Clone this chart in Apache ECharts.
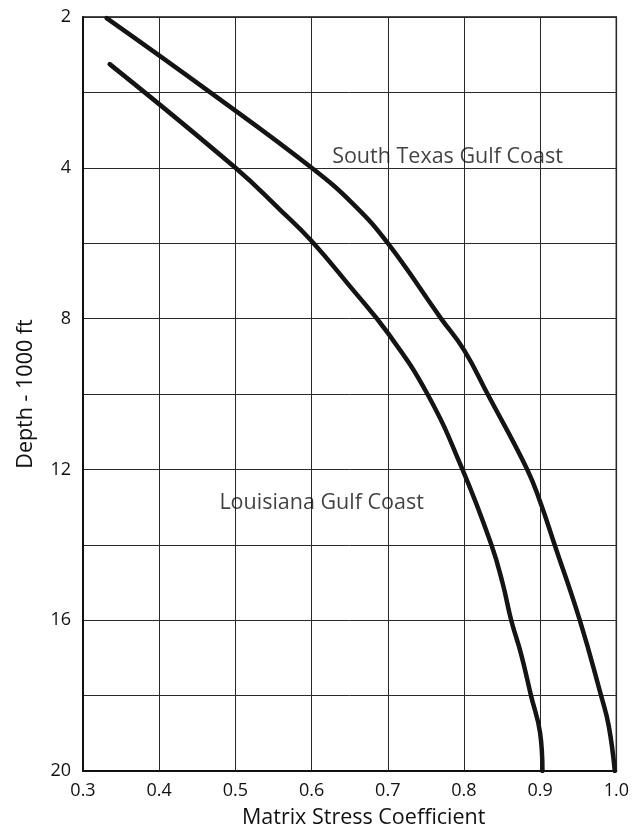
<!DOCTYPE html>
<html>
<head>
<meta charset="utf-8">
<style>
  html, body { margin: 0; padding: 0; background: #fff; }
  #chart { width: 632px; height: 834px; }
</style>
<script src="https://cdn.jsdelivr.net/npm/echarts@6/dist/echarts.min.js"></script>
</head>
<body>
<div id="chart"></div>
<script>
// Matrix stress coefficient (x) against depth in thousands of feet (y, downward)
const southTexasCoef  = [0.331, 0.467, 0.600, 0.655, 0.700, 0.770, 0.800, 0.831, 0.883, 0.900, 0.919, 0.952, 0.980, 0.990, 0.998];
const southTexasDepth = [0.03,  2.00,  4.00,  4.97,  6.00,  8.00,  8.83,  10.00, 12.00, 12.86, 14.00, 16.00, 18.00, 18.80, 20.00];

const louisianaCoef  = [0.335, 0.500, 0.558, 0.600, 0.651, 0.700, 0.752, 0.798, 0.836, 0.851, 0.862, 0.875, 0.888, 0.900, 0.903];
const louisianaDepth = [1.25,  4.00,  5.10,  5.94,  7.16,  8.38,  10.00, 12.00, 14.00, 15.04, 16.00, 16.90, 18.00, 19.00, 20.00];

const seriesNames = ['South Texas Gulf Coast', 'Louisiana Gulf Coast'];

// Depth axis tick labels
const depthTicks = [0, 4, 8, 12, 16, 20];
const depthTickLabels = ['2', '4', '8', '12', '16', '20'];

// Where each curve's caption sits (left edge, vertical middle), in data units
const captionAnchors = [[0.627, 3.70], [0.479, 12.88]];

const zip = (xs, ys) => xs.map((x, i) => [x, ys[i]]);

const FONT = '"Open Sans", "DejaVu Sans", sans-serif';
const INK = '#141414';

const chart = echarts.init(document.getElementById('chart'), null, { renderer: 'canvas' });

const curveStyle = {
  type: 'line',
  showSymbol: false,
  symbol: 'none',
  smooth: 0.45,
  lineStyle: { color: INK, width: 4.5, cap: 'round', join: 'round' },
  emphasis: { disabled: true },
  animation: false,
  z: 5
};

chart.setOption({
  animation: false,
  backgroundColor: '#fff',
  grid: {
    left: 83, right: 13, top: 17, bottom: 56,
    show: true, borderColor: '#111', borderWidth: 1.5, backgroundColor: 'transparent'
  },
  xAxis: {
    type: 'value',
    min: 0.3, max: 1.0, interval: 0.1,
    name: 'Matrix Stress Coefficient',
    nameLocation: 'middle',
    nameGap: 36,
    nameTextStyle: { fontFamily: FONT, fontSize: 21.5, color: '#111', padding: [0, 0, 0, 28] },
    axisLine: { show: true, onZero: false, lineStyle: { color: '#111', width: 2 } },
    axisTick: { show: false },
    splitLine: { show: true, lineStyle: { color: '#2a2a2a', width: 1 } },
    axisLabel: {
      margin: 11, fontFamily: FONT, fontSize: 18, color: '#111',
      showMaxLabel: true, overflow: 'none', alignMaxLabel: 'center',
      formatter: v => Number(v).toFixed(1)
    }
  },
  yAxis: {
    type: 'value',
    inverse: true,
    min: 0, max: 20, interval: 2,
    name: 'Depth - 1000 ft',
    nameLocation: 'middle',
    nameGap: 46,
    nameRotate: 90,
    nameTextStyle: { fontFamily: FONT, fontSize: 21.5, color: '#111' },
    axisLine: { show: true, onZero: false, lineStyle: { color: '#111', width: 2 } },
    axisTick: { show: false },
    splitLine: { show: true, lineStyle: { color: '#2a2a2a', width: 1 } },
    axisLabel: {
      margin: 12, fontFamily: FONT, fontSize: 18, color: '#111',
      showMinLabel: true, showMaxLabel: true,
      formatter: v => {
        const i = depthTicks.indexOf(Math.round(v));
        return i >= 0 ? depthTickLabels[i] : '';
      }
    }
  },
  series: [
    Object.assign({ name: seriesNames[0], data: zip(southTexasCoef, southTexasDepth) }, curveStyle),
    Object.assign({ name: seriesNames[1], data: zip(louisianaCoef, louisianaDepth) }, curveStyle),
    {
      type: 'scatter',
      symbolSize: 0,
      silent: true,
      animation: false,
      z: 6,
      data: captionAnchors.map((p, i) => ({ value: p, name: seriesNames[i] })),
      label: {
        show: true,
        position: [0, 0],
        align: 'left',
        verticalAlign: 'middle',
        formatter: p => p.name,
        fontFamily: FONT, fontSize: 21.5, color: '#111'
      }
    }
  ]
});
</script>
</body>
</html>
